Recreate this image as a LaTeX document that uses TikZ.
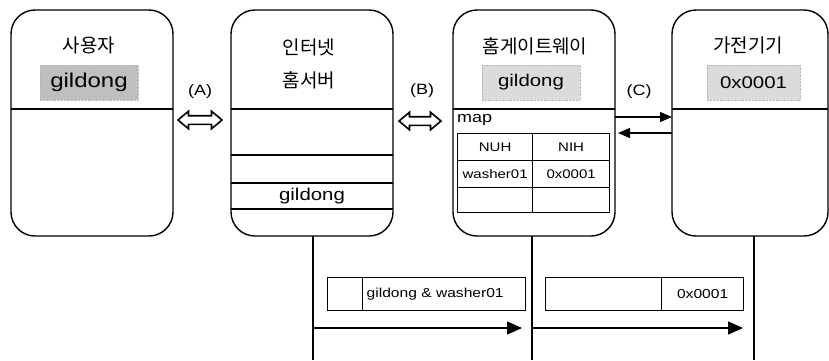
\documentclass[tikz,border=0pt]{standalone}
\usepackage{fontspec}
\setmainfont{Liberation Sans}[FakeStretch=1.2]
\newfontfamily\kr{Noto Sans CJK KR}
\usetikzlibrary{arrows.meta,shapes.arrows}

\tikzset{
  unit/.style={draw, line width=1.4pt, rounded corners=24pt, minimum width=162pt,
    minimum height=226pt, inner sep=0pt, outer sep=0pt},
  title/.style={font=\kr\fontsize{19}{21}\selectfont, inner sep=0pt},
  tag/.style={fill=gray!28, draw=gray!55, densely dotted, minimum width=98pt,
    minimum height=35pt, inner sep=0pt, font=\fontsize{17}{20}\selectfont},
  divider/.style={line width=1.2pt},
  cell/.style={draw, line width=1.3pt, anchor=north west, minimum width=75pt,
    minimum height=27pt, inner sep=0pt, font=\fontsize{12.5}{14}\selectfont},
  msgbox/.style={draw, line width=1.3pt, anchor=north west, minimum height=33pt,
    inner sep=0pt, font=\fontsize{13}{15}\selectfont},
  label/.style={font=\fontsize{15}{17}\selectfont, inner sep=0pt},
  hollow/.style={double arrow, draw, line width=1.6pt, inner sep=3.5pt,
    minimum width=16pt, double arrow head extend=4.5pt, double arrow tip angle=80},
  carrow/.style={line width=1.3pt, -{Triangle[length=12pt,width=10pt]}},
  msg/.style={line width=1.3pt, -{Triangle[length=15pt,width=13pt]}},
  lifeline/.style={line width=1.3pt}
}

\begin{document}
\begin{tikzpicture}[x=1pt,y=-1pt]
\useasboundingbox (0,0) rectangle (829,360);

% participants
\node[unit] (b1) at (92,123) {};
\node[unit] (b2) at (312,123) {};
\node[unit] (b3) at (534,123) {};
\node[unit, minimum width=156pt] (b4) at (750,123) {};

% headers
\node[title] (t1) at (89,45) {사용자};
\node[title] (t2a) at (309,47) {인터넷};
\node[title] (t2b) at (309,80) {홈서버};
\node[title] (t3) at (535,46) {홈게이트웨이};
\node[title] (t4) at (748,45) {가전기기};

\node[tag, fill=gray!50, font=\fontsize{20}{22}\selectfont] (g1) at (89,82.5) {gildong};
\node[tag] (g3) at (531,82.5) {gildong};
\node[tag, minimum width=93pt] (g4) at (753.5,82.5) {0x0001};

% dividers
\draw[divider] (b1.west |- 0,109) -- (b1.east |- 0,109);
\draw[divider] (b2.west |- 0,109) -- (b2.east |- 0,109);
\draw[divider] (b2.west |- 0,155) -- (b2.east |- 0,155);
\draw[divider] (b2.west |- 0,183) -- (b2.east |- 0,183);
\draw[divider] (b2.west |- 0,209) -- (b2.east |- 0,209);
\node[font=\fontsize{17}{20}\selectfont] (s2) at (312,196) {gildong};
\draw[divider] (b3.west |- 0,109) -- (b3.east |- 0,109);
\draw[divider] (b4.west |- 0,109) -- (b4.east |- 0,109);

% mapping table
\node[anchor=west, inner sep=0pt, font=\fontsize{15}{17}\selectfont] (map) at (457,120) {map};
\node[cell] (c11) at (457,133) {NUH};
\node[cell, minimum width=77pt] (c12) at (532,133) {NIH};
\node[cell] (c21) at (457,160) {washer01};
\node[cell, minimum width=77pt] (c22) at (532,160) {0x0001};
\node[cell, minimum height=25pt] (c31) at (457,187) {};
\node[cell, minimum width=77pt, minimum height=25pt] (c32) at (532,187) {};

% links
\node[hollow, minimum height=44pt] (la) at (200,120) {};
\node[hollow, minimum height=42pt] (lb) at (420,121) {};
\node[label] (A) at (200,92) {(A)};
\node[label] (B) at (422,91) {(B)};
\node[label] (C) at (639,92) {(C)};
\draw[carrow] (b3.east |- 0,117) -- (b4.west |- 0,117);
\draw[carrow] (b4.west |- 0,133) -- ([xshift=3pt]b3.east |- 0,133);

% lifelines
\coordinate (l2) at ([xshift=1pt]b2.south);
\coordinate (l3) at ([xshift=-2pt]b3.south);
\coordinate (l4) at ([xshift=4pt]b4.south);
\draw[lifeline] (l2) -- (l2 |- 0,360);
\draw[lifeline] (l3) -- (l3 |- 0,360);
\draw[lifeline] (l4) -- (l4 |- 0,360);

% messages
\node[msgbox, minimum width=35pt] (m1a) at (327,277) {};
\node[msgbox, text width=155pt, inner xsep=4pt, align=left] (m1b) at (362,277) {gildong \& washer01};
\node[msgbox, minimum width=116pt] (m2a) at (545,277) {};
\node[msgbox, minimum width=82pt] (m2b) at (661,277) {0x0001};
\draw[msg] (l2 |- 0,328) -- ([xshift=-10pt]l3 |- 0,328);
\draw[msg] (l3 |- 0,328) -- ([xshift=-11pt]l4 |- 0,328);
\end{tikzpicture}
\end{document}
